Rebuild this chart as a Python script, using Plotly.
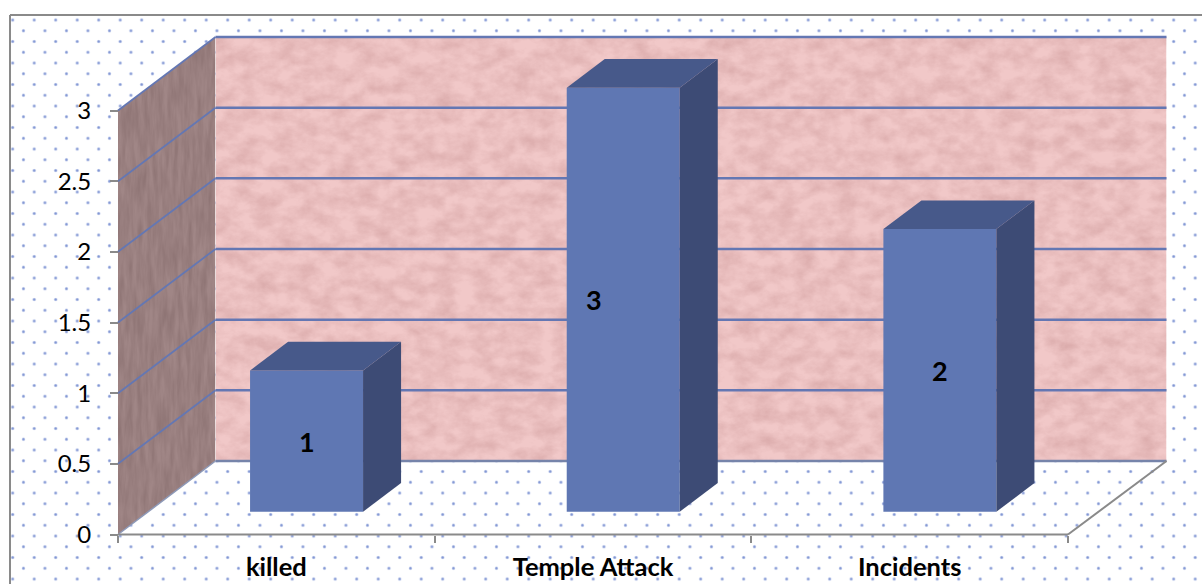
import base64
import plotly.graph_objects as go

categories = ["killed", "Temple Attack", "Incidents"]
values = [1, 3, 2]
value_ticks = [0, 0.5, 1, 1.5, 2, 2.5, 3]
value_tick_labels = ["0", "0.5", "1", "1.5", "2", "2.5", "3"]

WIDTH, HEIGHT = 1202, 584

# Pixel placement of the front plane of the chart box
X0_PX, X3_PX = 118.0, 1068.0
Y0_PX, Y3_PX = 534.5, 110.5
PX_PER_U = (X3_PX - X0_PX) / 3
PX_PER_V = (Y0_PX - Y3_PX) / 3

# Oblique projection: one unit of depth moves a point this far on screen
DEPTH_PX_X, DEPTH_PX_Y = 97.5, 73.5
DX = DEPTH_PX_X / PX_PER_U
DY = DEPTH_PX_Y / PX_PER_V

BAR_WIDTH = 113 / PX_PER_U
BAR_NEAR, BAR_FAR = 0.31, 0.70

FRONT = "#5f77b3"
SIDE = "#3d4b75"
TOP = "#47598a"
GRID = "#6477b3"
AXIS = "#8a8a8a"
FONT = "Lato"


def project(u, v, z):
    return u + z * DX, v + z * DY


def svg_uri(svg):
    return "data:image/svg+xml;base64," + base64.b64encode(svg.encode()).decode()


# Dotted page background
dots_svg = f"""<svg xmlns="http://www.w3.org/2000/svg" width="{WIDTH}" height="{HEIGHT}">
<defs>
<radialGradient id="d"><stop offset="0.35" stop-color="#7d92d2"/><stop offset="1" stop-color="#dfe5f5"/></radialGradient>
<pattern id="p" patternUnits="userSpaceOnUse" x="7.325" y="14.625" width="21.5" height="21.5">
<circle cx="5.375" cy="5.375" r="1.8" fill="url(#d)"/>
<circle cx="16.125" cy="16.125" r="1.8" fill="url(#d)"/>
</pattern></defs>
<rect width="{WIDTH}" height="{HEIGHT}" fill="#ffffff"/>
<rect x="10" y="15" width="{WIDTH - 10}" height="{HEIGHT - 15}" fill="url(#p)"/>
</svg>"""

# Mottled texture of the back wall
back_w = X3_PX - X0_PX + 1
back_h = Y0_PX - Y3_PX
back_svg = f"""<svg xmlns="http://www.w3.org/2000/svg" width="{back_w}" height="{back_h}" viewBox="0 0 {back_w} {back_h}" preserveAspectRatio="none">
<filter id="t" x="0" y="0" width="100%" height="100%" color-interpolation-filters="sRGB">
<feTurbulence type="fractalNoise" baseFrequency="0.05 0.07" numOctaves="5" seed="11"/>
<feColorMatrix values="0 0 0 0 0.68  0 0 0 0 0.44  0 0 0 0 0.44  0.5 0 0 0 -0.15"/>
<feComposite operator="over" in2="SourceGraphic"/>
</filter>
<rect width="{back_w}" height="{back_h}" fill="#f1c8c8" filter="url(#t)"/>
</svg>"""

# Streaked texture of the left wall, a parallelogram inside its bounding box
left_h = back_h + DEPTH_PX_Y
left_svg = f"""<svg xmlns="http://www.w3.org/2000/svg" width="{DEPTH_PX_X}" height="{left_h}" viewBox="0 0 {DEPTH_PX_X} {left_h}" preserveAspectRatio="none">
<filter id="t" x="0" y="0" width="100%" height="100%" color-interpolation-filters="sRGB">
<feTurbulence type="fractalNoise" baseFrequency="0.2 0.03" numOctaves="3" seed="5"/>
<feColorMatrix values="0 0 0 0 0.42  0 0 0 0 0.32  0 0 0 0 0.32  0.55 0 0 0 -0.14"/>
<feComposite operator="over" in2="SourceGraphic"/>
</filter>
<clipPath id="c"><polygon points="0,{DEPTH_PX_Y} {DEPTH_PX_X},0 {DEPTH_PX_X},{back_h} 0,{left_h}"/></clipPath>
<g clip-path="url(#c)"><rect width="{DEPTH_PX_X}" height="{left_h}" fill="#a08686" filter="url(#t)"/></g>
</svg>"""

top_v = max(value_ticks)

images = [
    dict(source=svg_uri(dots_svg), xref="paper", yref="paper", x=0, y=1,
         sizex=1, sizey=1, xanchor="left", yanchor="top", sizing="stretch", layer="below"),
    dict(source=svg_uri(back_svg), xref="x", yref="y",
         x=project(0, 0, 1)[0], y=project(0, top_v, 1)[1],
         sizex=back_w / PX_PER_U, sizey=top_v,
         xanchor="left", yanchor="top", sizing="stretch", layer="below"),
    dict(source=svg_uri(left_svg), xref="x", yref="y",
         x=0, y=project(0, top_v, 1)[1],
         sizex=DX, sizey=top_v + DY,
         xanchor="left", yanchor="top", sizing="stretch", layer="below"),
]

shapes = []


def segment(p, q, color, width):
    shapes.append(dict(type="line", xref="x", yref="y", layer="between",
                       x0=p[0], y0=p[1], x1=q[0], y1=q[1],
                       line=dict(color=color, width=width)))


# Gridlines run across the back wall and down the left wall
right_u = len(categories) + 1 / PX_PER_U
for tick in value_ticks:
    if tick > 0:
        segment(project(0, tick, 0), project(0, tick, 1), GRID, 1.8)
    segment(project(0, tick, 1), project(right_u, tick, 1),
            "#7684aa" if tick == 0 else GRID, 2.5)

# Floor edges and category axis line
segment(project(0, 0, 0), project(0, 0, 1), "#8d99b8", 1.5)
segment(project(len(categories), 0, 0), project(right_u, 0, 1), AXIS, 2)
segment((0, 0), (len(categories), 0), AXIS, 2.2)

# Outer frame along the top and left of the page
frame_style = dict(color=AXIS, width=2)
shapes.append(dict(type="line", xref="paper", yref="paper", layer="between",
                   x0=10 / WIDTH, y0=0, x1=10 / WIDTH, y1=1 - 15 / HEIGHT, line=frame_style))
shapes.append(dict(type="line", xref="paper", yref="paper", layer="between",
                   x0=10 / WIDTH, y0=1 - 15 / HEIGHT, x1=1, y1=1 - 15 / HEIGHT, line=frame_style))

fig = go.Figure()

centers = [i + 0.5 + BAR_NEAR * DX for i in range(len(categories))]
floor_v = BAR_NEAR * DY

fig.add_trace(go.Bar(x=centers, y=values, base=[floor_v] * len(values), width=BAR_WIDTH,
                     marker=dict(color=FRONT, line=dict(width=0)),
                     showlegend=False, hoverinfo="skip"))

depth = BAR_FAR - BAR_NEAR


def face(points, color):
    xs = [p[0] for p in points] + [points[0][0]]
    ys = [p[1] for p in points] + [points[0][1]]
    fig.add_trace(go.Scatter(x=xs, y=ys, mode="lines", fill="toself", fillcolor=color,
                             line=dict(width=0, color=color), showlegend=False, hoverinfo="skip"))


for c, val in zip(centers, values):
    right = c + BAR_WIDTH / 2
    left = c - BAR_WIDTH / 2
    high = floor_v + val
    face([(right, floor_v), project(right, floor_v, depth),
          project(right, high, depth), (right, high)], SIDE)
    face([(left, high), (right, high), project(right, high, depth),
          project(left, high, depth)], TOP)

# Value labels sit mid-bar; the tallest one is set off towards the left of its bar
label_shift = {"Temple Attack": -29}
annotations = [
    dict(x=c, y=floor_v + val / 2, xref="x", yref="y", text=f"<b>{val}</b>", showarrow=False,
         xshift=label_shift.get(cat, 0), font=dict(family=FONT, size=27, color="#000000"))
    for c, val, cat in zip(centers, values, categories)
]

fig.update_layout(
    width=WIDTH, height=HEIGHT, autosize=False,
    margin=dict(l=0, r=0, t=0, b=0, pad=0),
    paper_bgcolor="#ffffff", plot_bgcolor="rgba(0,0,0,0)",
    images=images, shapes=shapes, annotations=annotations,
    barmode="overlay", showlegend=False,
    xaxis=dict(
        range=[-X0_PX / PX_PER_U, (WIDTH - X0_PX) / PX_PER_U],
        anchor="free", position=(HEIGHT - Y0_PX) / HEIGHT,
        tickmode="array", tickvals=[i + 0.5 for i in range(len(categories))], ticktext=categories,
        ticks="", ticklabelstandoff=15,
        tickfont=dict(family=FONT, size=25.5, color="#000000", weight="bold"),
        minor=dict(tickmode="array", tickvals=list(range(len(categories) + 1)), ticks="outside",
                   ticklen=7, tickwidth=2, tickcolor=AXIS, showgrid=False),
        showgrid=False, zeroline=False, showline=False,
    ),
    yaxis=dict(
        range=[-(HEIGHT - Y0_PX) / PX_PER_V, Y0_PX / PX_PER_V],
        anchor="free", position=X0_PX / WIDTH,
        tickmode="array", tickvals=value_ticks, ticktext=value_tick_labels,
        ticks="outside", ticklen=8, tickwidth=2, tickcolor=AXIS, ticklabelstandoff=14,
        tickfont=dict(family=FONT, size=24, color="#000000"),
        showgrid=False, zeroline=False, showline=False,
    ),
)

fig.write_html("out.html", config=dict(displayModeBar=False))
